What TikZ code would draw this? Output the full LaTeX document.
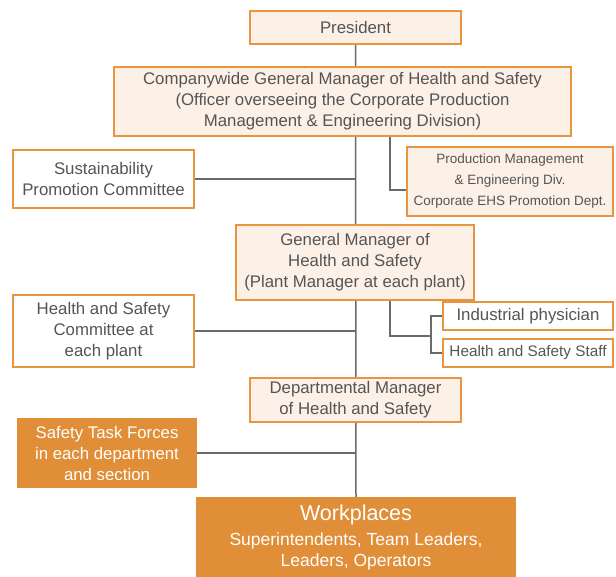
\documentclass[tikz,border=0pt]{standalone}
\usepackage{fontspec}
\setmainfont{Liberation Sans}
\usetikzlibrary{positioning,calc,backgrounds}
\definecolor{edgeorange}{HTML}{E8953F}
\definecolor{peach}{HTML}{FDF0E7}
\definecolor{deeporange}{HTML}{E08E38}
\definecolor{linkgray}{HTML}{6A6A6A}
\definecolor{textgray}{HTML}{555555}
\tikzset{
  rolebox/.style={draw=edgeorange,line width=2.4pt,fill=peach,text=textgray,align=center,inner sep=0pt,font=\fontsize{16.8}{21}\selectfont},
  bodybox/.style={rolebox,fill=white},
  taskbox/.style={fill=deeporange,text=white,align=center,inner sep=0pt,font=\fontsize{16.8}{21}\selectfont},
  link/.style={draw=linkgray,line width=1.5pt}
}
\begin{document}
\begin{tikzpicture}[x=1pt,y=-1pt]
  \useasboundingbox (0,0) rectangle (616,577);
  % chain of command
  \node[rolebox,minimum width=211pt,minimum height=33pt] (pres) at (355.5,27.5) {President};
  \node[rolebox,minimum width=457pt,minimum height=69pt] (cgm) at (342.5,101.5)
    {Companywide General Manager of Health and Safety\\(Officer overseeing the Corporate Production\\Management \& Engineering Division)};
  \node[rolebox,minimum width=238pt,minimum height=75pt] (gmp) at (355,262.5)
    {General Manager of\\Health and Safety\\(Plant Manager at each plant)};
  \node[rolebox,minimum width=211pt,minimum height=44pt] (dept) at (355.5,400)
    {Departmental Manager\\of Health and Safety};
  \node[taskbox,minimum width=320pt,minimum height=80pt,anchor=north] (work) at (356,497)
    {{\fontsize{21.5}{26}\selectfont Workplaces}\\[4pt]{\fontsize{17.5}{21}\selectfont Superintendents, Team Leaders,}\\{\fontsize{17.5}{21}\selectfont Leaders, Operators}};
  % committees on the left
  \node[bodybox,minimum width=181pt,minimum height=58pt] (sust) at (103.5,179)
    {Sustainability\\Promotion Committee};
  \node[bodybox,minimum width=181pt,minimum height=72pt] (hsc) at (103.5,331)
    {Health and Safety\\Committee at\\each plant};
  \node[taskbox,minimum width=180pt,minimum height=70pt] (force) at (107,453)
    {Safety Task Forces\\in each department\\and section};
  % staff on the right
  \node[rolebox,minimum width=206pt,minimum height=69pt,font=\fontsize{13.5}{21}\selectfont] (prod) at (510,181.5)
    {Production Management\\\& Engineering Div.\\Corporate EHS Promotion Dept.};
  \node[bodybox,minimum width=170pt,minimum height=28pt] (phys) at (528,316) {Industrial physician};
  \node[bodybox,minimum width=170pt,minimum height=28pt,font=\fontsize{15.3}{21}\selectfont] (staff) at (528,353) {Health and Safety Staff};
  \coordinate (fork) at (431,336);

  \begin{scope}[on background layer]
    \draw[link] (pres.south) -- (work.north);
    \draw[link] (sust.east) -- (sust.east -| pres.south);
    \draw[link] (hsc.east) -- (hsc.east -| pres.south);
    \draw[link] (force.east) -- (force.east -| pres.south);
    \draw[link] ([xshift=47.5pt]cgm.south) |- ([yshift=-8.5pt]prod.west);
    \draw[link] ([xshift=35pt]gmp.south) |- (fork);
    \draw[link] (phys.west) -| (fork) |- (staff.west);
  \end{scope}
\end{tikzpicture}
\end{document}
